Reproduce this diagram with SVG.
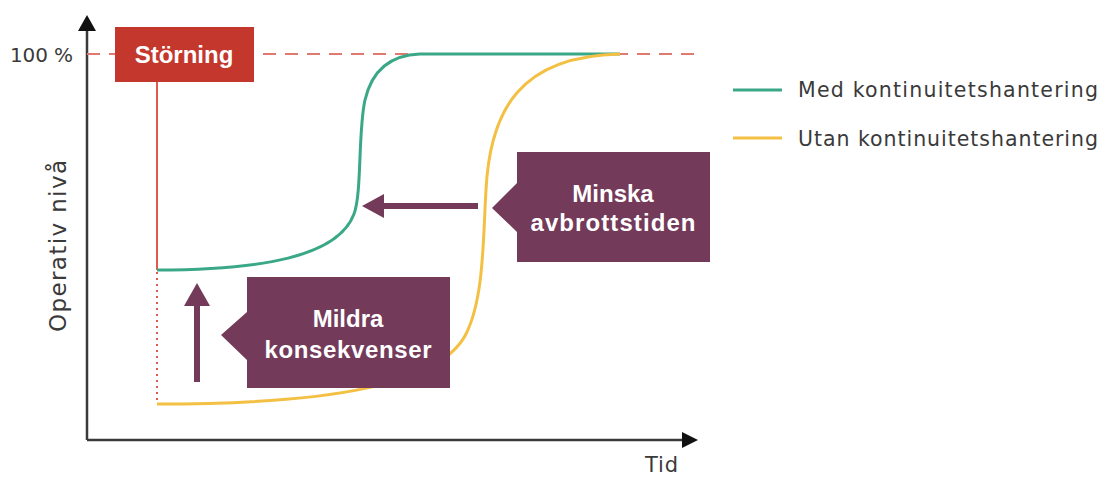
<svg xmlns="http://www.w3.org/2000/svg" width="1106" height="477" viewBox="0 0 1106 477">
<style>
.axis{stroke:#3a3a3a;stroke-width:2.5;fill:none}
.lbl{font-family:"DejaVu Sans","Liberation Sans",sans-serif;fill:#3a3a3a}
.wt{font-family:"Liberation Sans",Arial,sans-serif;font-weight:bold;fill:#ffffff;text-anchor:middle}
.purple{fill:#733a5a}
.green{stroke:#3aa887;stroke-width:3;fill:none}
.yellow{stroke:#f3c043;stroke-width:3;fill:none}
</style>
<rect width="1106" height="477" fill="#ffffff"/>
<g id="axes">
<line class="axis" x1="87" y1="440" x2="87" y2="28"/>
<polygon points="87,15 78,31 96,31" fill="#111"/>
<line class="axis" x1="87" y1="440" x2="685" y2="440"/>
<polygon points="698,440 682,432 682,448" fill="#111"/>
<text class="lbl" x="10" y="62" font-size="20" textLength="63">100 %</text>
<text class="lbl" x="0" y="0" font-size="23" textLength="172" transform="translate(66,332) rotate(-90)">Operativ nivå</text>
<text class="lbl" x="645" y="472" font-size="21" textLength="33">Tid</text>
</g>
<g id="connectors">
<line x1="87" y1="54" x2="700" y2="54" stroke="#e07a70" stroke-width="2" stroke-dasharray="13 9"/>
<line x1="157" y1="82" x2="157" y2="270" stroke="#e0594e" stroke-width="2"/>
<line x1="157" y1="272" x2="157" y2="404" stroke="#e0594e" stroke-width="2" stroke-dasharray="2 4"/>
<path class="green" d="M157,270 C260,270 338,257 354,214 C362,193 358,130 365,100 C372,70 390,55 420,54 L620,54"/>
<path class="yellow" d="M157,404 C330,404 440,385 466,334 C484,298 483,240 486,190 C490,110 520,56 620,54"/>
<line x1="478" y1="206" x2="380" y2="206" stroke="#733a5a" stroke-width="6"/>
<polygon points="362,206 384,194 384,218" class="purple"/>
<line x1="197" y1="382" x2="197" y2="300" stroke="#733a5a" stroke-width="6"/>
<polygon points="197,283 184,306 210,306" class="purple"/>
</g>
<g id="storning">
<rect x="115" y="27" width="139" height="55" fill="#c4372c"/>
<text class="wt" x="184" y="63" font-size="24">Störning</text>
</g>
<g id="minska">
<polygon class="purple" points="517,152 710,152 710,262 517,262 517,232 492,208 517,183"/>
<text class="wt" x="613" y="202" font-size="24">Minska</text>
<text class="wt" x="613" y="231" font-size="24" textLength="165">avbrottstiden</text>
</g>
<g id="mildra">
<polygon class="purple" points="247,277 450,277 450,388 247,388 247,360 221,335 247,312"/>
<text class="wt" x="348" y="327" font-size="24">Mildra</text>
<text class="wt" x="348" y="358" font-size="24" textLength="167">konsekvenser</text>
</g>
<g id="legend">
<line x1="733" y1="90" x2="782" y2="90" class="green"/>
<text class="lbl" x="798" y="97" font-size="20.5" textLength="300">Med kontinuitetshantering</text>
<line x1="733" y1="138" x2="782" y2="138" class="yellow"/>
<text class="lbl" x="798" y="146" font-size="20.5" textLength="300">Utan kontinuitetshantering</text>
</g>
</svg>
